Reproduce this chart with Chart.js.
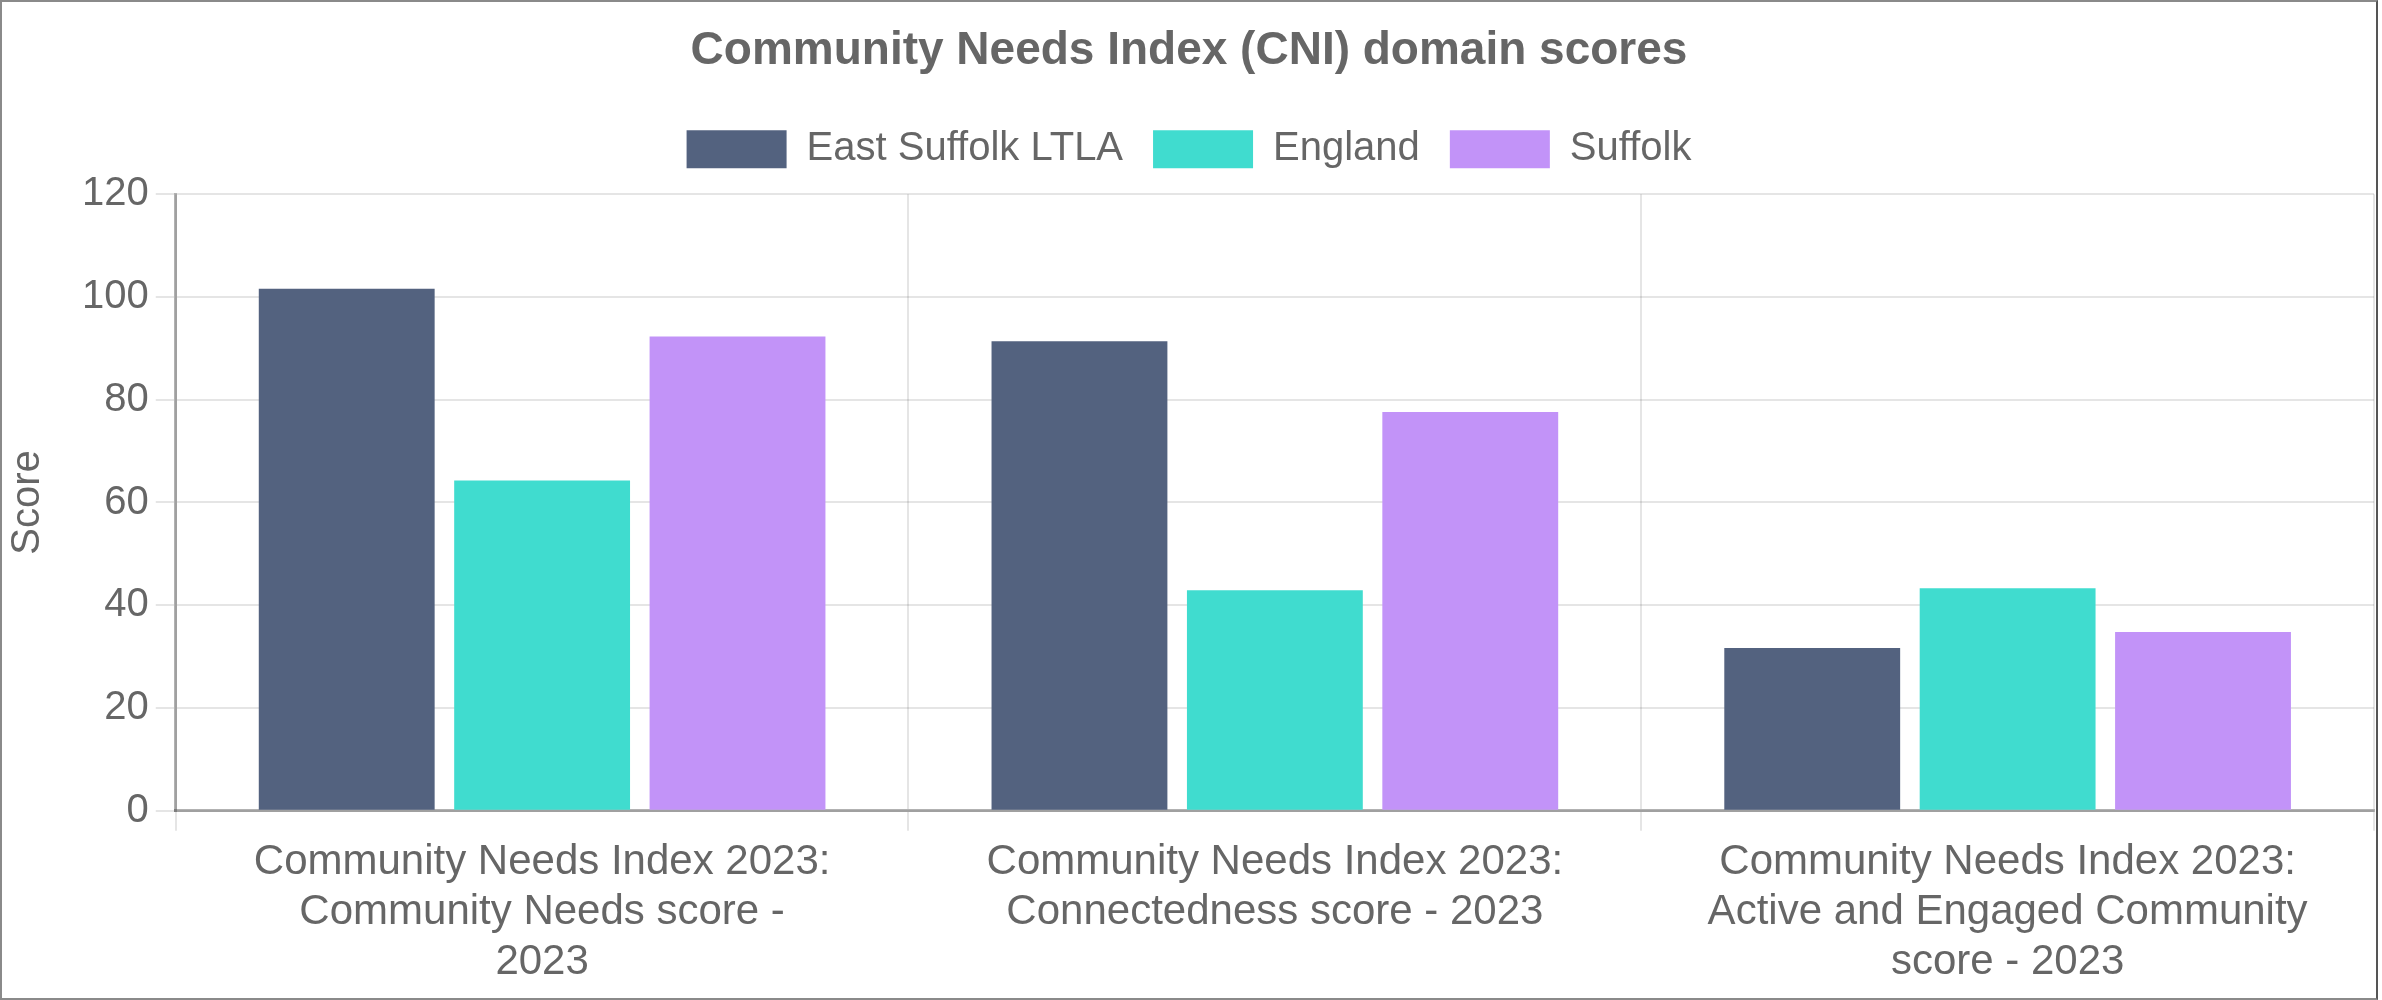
<!DOCTYPE html>
<html>
<head>
<meta charset="utf-8">
<script src="https://cdn.jsdelivr.net/npm/chart.js@4.4.1/dist/chart.umd.min.js"></script>
<style>
  html, body { margin: 0; padding: 0; background: #fff; }
  .frame { width: 2378px; height: 1000px; box-sizing: border-box; border: 2px solid #8a8a8a; border-right-color: #555; background: #fff; }
  .frame canvas { display: block; }
</style>
</head>
<body>
<div class="frame">
  <canvas class="myChart" width="2374" height="996" style="width:2374px;height:996px"></canvas>
</div>
<script>
const categories = [
  ['Community Needs Index 2023:', 'Community Needs score -', '2023'],
  ['Community Needs Index 2023:', 'Connectedness score - 2023'],
  ['Community Needs Index 2023:', 'Active and Engaged Community', 'score - 2023']
]
const eastSuffolk = [101.6, 91.4, 31.7]
const england = [64.3, 42.9, 43.3]
const suffolk = [92.3, 77.6, 34.8]
const yTicks = [0, 20, 40, 60, 80, 100, 120]

const FONT = "'Liberation Sans', Arial, Helvetica, sans-serif"
Chart.defaults.font.family = FONT
Chart.defaults.color = '#666'

// a bit more room under the legend, like the original
const legendGap = {
  id: 'legendGap',
  beforeInit(chart) {
    const fit = chart.legend.fit
    chart.legend.fit = function () {
      fit.bind(chart.legend)()
      this.height += 15
    }
  }
}

const chartLoader = (link) => {
  const data = {
    labels: categories,
    datasets: [{
      label: 'East Suffolk LTLA',
      backgroundColor: '#53627f',
      data: eastSuffolk,
    }, {
      label: 'England',
      backgroundColor: '#40dccf',
      data: england,
    }, {
      label: 'Suffolk',
      backgroundColor: '#c293f8',
      data: suffolk,
    }],
  }
  const config = {
    type: 'bar',
    data: data,
    plugins: [legendGap],
    options: {
      responsive: false,
      animation: false,
      devicePixelRatio: 1,
      layout: { padding: { left: 2, right: 2, top: 0, bottom: 4 } },
      plugins: {
        title: {
          display: true,
          text: 'Community Needs Index (CNI) domain scores',
          color: '#666',
          font: { size: 46, weight: 'bold' },
          padding: { top: 22, bottom: 20 }
        },
        legend: {
          labels: {
            boxWidth: 100,
            boxHeight: 38,
            padding: 30,
            font: { size: 40 }
          }
        },
        tooltip: { enabled: false }
      },
      scales: {
        x: {
          grid: { color: 'rgba(0,0,0,0.1)', lineWidth: 2, tickLength: 20 },
          border: { color: 'rgba(0,0,0,0.3)', width: 3 },
          ticks: { font: { size: 42, lineHeight: 1.2 }, padding: 6, maxRotation: 0 }
        },
        y: {
          min: 0,
          max: 120,
          afterBuildTicks: (axis) => { axis.ticks = yTicks.map(v => ({ value: v })) },
          grid: { color: 'rgba(0,0,0,0.1)', lineWidth: 2, tickLength: 20 },
          border: { color: 'rgba(0,0,0,0.3)', width: 3 },
          ticks: { font: { size: 40 }, padding: 7 },
          title: { display: true, text: 'Score', font: { size: 40 }, padding: { top: 0, bottom: 23 } }
        }
      }
    },
  }
  return new Chart(link, config)
}

const ctx = document.querySelector('.myChart').getContext('2d')
chartLoader(ctx)
</script>
</body>
</html>
